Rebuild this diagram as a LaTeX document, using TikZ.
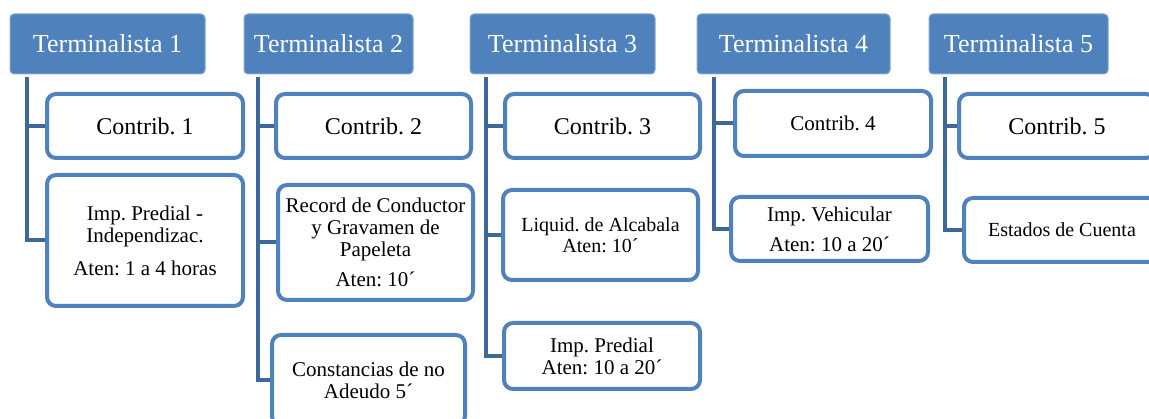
\documentclass[tikz,border=0pt]{standalone}
\usepackage{fontspec}
\setmainfont{Liberation Serif}
\usepackage{xcolor}
\definecolor{headblue}{HTML}{4F81BD}
\definecolor{linkblue}{HTML}{3E6898}
\frenchspacing
\begin{document}
\begin{tikzpicture}[x=1pt,y=-1pt,
  head/.style={fill=headblue,draw=headblue!70!white,line width=1pt,rounded corners=4pt,text=white,
    font=\fontsize{26}{30}\selectfont,minimum height=60pt,inner sep=0pt},
  item/.style={draw=headblue,line width=4pt,rounded corners=9pt,fill=white,align=center,
    minimum width=196pt,inner sep=0pt},
  big/.style={font=\fontsize{24}{26}\selectfont},
  small/.style={font=\fontsize{21}{22}\selectfont},
  link/.style={draw=linkblue,line width=4pt}]
\useasboundingbox (0,0) rectangle (1149,419);
\clip (0,0) rectangle (1149,419);
\node[head,minimum width=195pt] (h1) at (107.5,44) {Terminalista 1};
\node[head,minimum width=169pt] (h2) at (328.5,44) {Terminalista 2};
\node[head,minimum width=185pt] (h3) at (562.5,44) {Terminalista 3};
\node[head,minimum width=193pt] (h4) at (793.5,44) {Terminalista 4};
\node[head,minimum width=179pt] (h5) at (1018.5,44) {Terminalista 5};
\coordinate (t1) at (27,77);
\coordinate (t2) at (258,77);
\coordinate (t3) at (486,77);
\coordinate (t4) at (714,77);
\coordinate (t5) at (945,77);
\node[item,big,minimum height=64pt] (c11) at (145,126) {Contrib. 1};
\node[item,small,minimum height=131pt] (c12) at (145,240.5) {Imp. Predial -\\Independizac.\\[11pt]Aten: 1 a 4 horas};
\node[item,big,minimum height=64pt,minimum width=195pt] (c21) at (373.5,126) {Contrib. 2};
\node[item,small,minimum height=115pt,minimum width=195pt] (c22) at (375.5,242.5) {Record de Conductor\\y Gravamen de\\Papeleta\\[8pt]Aten: 10´};
\node[item,small,minimum height=90pt,minimum width=193pt] (c23) at (368.5,380) {Constancias de no\\Adeudo 5´};
\node[item,big,minimum height=64pt,minimum width=195pt] (c31) at (602.5,126) {Contrib. 3};
\node[item,font=\fontsize{20}{21}\selectfont,minimum height=90pt,minimum width=195pt] (c32) at (600.5,235) {Liquid. de Alcabala\\Aten: 10´};
\node[item,small,minimum height=66pt] (c33) at (602,356) {Imp. Predial\\Aten: 10 a 20´};
\node[item,small,minimum height=65pt] (c41) at (833,123.5) {Contrib. 4};
\node[item,small,minimum height=64pt,minimum width=197pt] (c42) at (829.5,229) {Imp. Vehicular\\[8pt]Aten: 10 a 20´};
\node[item,big,minimum height=64pt] (c51) at (1057,126) {Contrib. 5};
\node[item,font=\fontsize{20}{21}\selectfont,minimum height=64pt] (c52) at (1062,230) {Estados de Cuenta};
\draw[link] (t1) |- (c12.west);
\draw[link] (t1 |- c11.west) -- (c11.west);
\draw[link] (t2) |- (c23.west);
\draw[link] (t2 |- c21.west) -- (c21.west);
\draw[link] (t2 |- c22.west) -- (c22.west);
\draw[link] (t3) |- (c33.west);
\draw[link] (t3 |- c31.west) -- (c31.west);
\draw[link] (t3 |- c32.west) -- (c32.west);
\draw[link] (t4) |- (c42.west);
\draw[link] (t4 |- c41.west) -- (c41.west);
\draw[link] (t5) |- (c52.west);
\draw[link] (t5 |- c51.west) -- (c51.west);
\end{tikzpicture}
\end{document}
